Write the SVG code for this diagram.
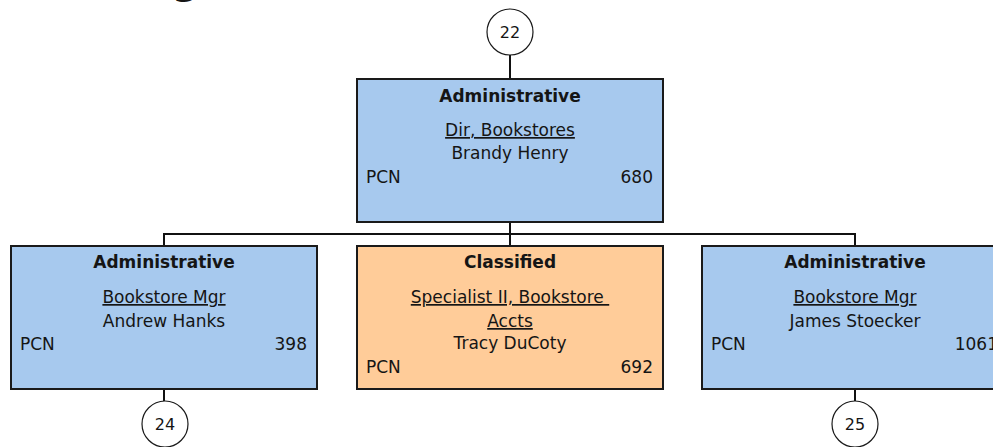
<svg xmlns="http://www.w3.org/2000/svg" width="993" height="447" viewBox="0 0 993 447">
<style>
text{font-family:"DejaVu Sans","Verdana",sans-serif;font-size:17px;fill:#151515}
.b{font-weight:bold}
.c{text-anchor:middle}
.r{text-anchor:end}
.u{text-decoration:underline}
.adm{fill:#A7C9EE;stroke:#1a1a1a;stroke-width:2}
.cls{fill:#FFCC99;stroke:#1a1a1a;stroke-width:2}
.circ{fill:#fff;stroke:#1a1a1a;stroke-width:1.2}
.con{fill:none;stroke:#111;stroke-width:2}
</style>
<rect width="993" height="447" fill="#fff"/>
<text class="b" x="172" y="-6" style="font-size:38px">g</text>
<g id="connectors">
<path class="con" d="M510 55V79"/>
<path class="con" d="M510 222V246"/>
<path class="con" d="M164 246V234H855V246"/>
<path class="con" d="M164 389V401"/>
<path class="con" d="M855 389V401"/>
</g>
<g id="c22"><circle class="circ" cx="510" cy="32" r="23"/><text class="c" x="510" y="38" style="font-size:16px">22</text></g>
<g id="n680">
<rect class="adm" x="357" y="79" width="306" height="143"/>
<text class="b c" x="510" y="102">Administrative</text>
<text class="c u" x="510" y="136">Dir, Bookstores</text>
<text class="c" x="510" y="159">Brandy Henry</text>
<text x="366" y="183">PCN</text>
<text class="r" x="653" y="183">680</text>
</g>
<g id="n398">
<rect class="adm" x="11" y="246" width="306" height="143"/>
<text class="b c" x="164" y="268">Administrative</text>
<text class="c u" x="164" y="303">Bookstore Mgr</text>
<text class="c" x="164" y="327">Andrew Hanks</text>
<text x="20" y="350">PCN</text>
<text class="r" x="307" y="350">398</text>
</g>
<g id="n692">
<rect class="cls" x="357" y="246" width="306" height="143"/>
<text class="b c" x="510" y="268">Classified</text>
<text class="c u" x="510" y="303" style="white-space:pre" xml:space="preserve">Specialist II, Bookstore </text>
<text class="c u" x="510" y="327">Accts</text>
<text class="c" x="510" y="349">Tracy DuCoty</text>
<text x="366" y="373">PCN</text>
<text class="r" x="653" y="373">692</text>
</g>
<g id="n1061">
<rect class="adm" x="702" y="246" width="306" height="143"/>
<text class="b c" x="855" y="268">Administrative</text>
<text class="c u" x="855" y="303">Bookstore Mgr</text>
<text class="c" x="855" y="327">James Stoecker</text>
<text x="711" y="350">PCN</text>
<text class="r" x="998" y="350">1061</text>
</g>
<g id="c24"><circle class="circ" cx="165" cy="424" r="23"/><text class="c" x="165" y="430" style="font-size:16px">24</text></g>
<g id="c25"><circle class="circ" cx="855" cy="424" r="23"/><text class="c" x="855" y="430" style="font-size:16px">25</text></g>
</svg>
